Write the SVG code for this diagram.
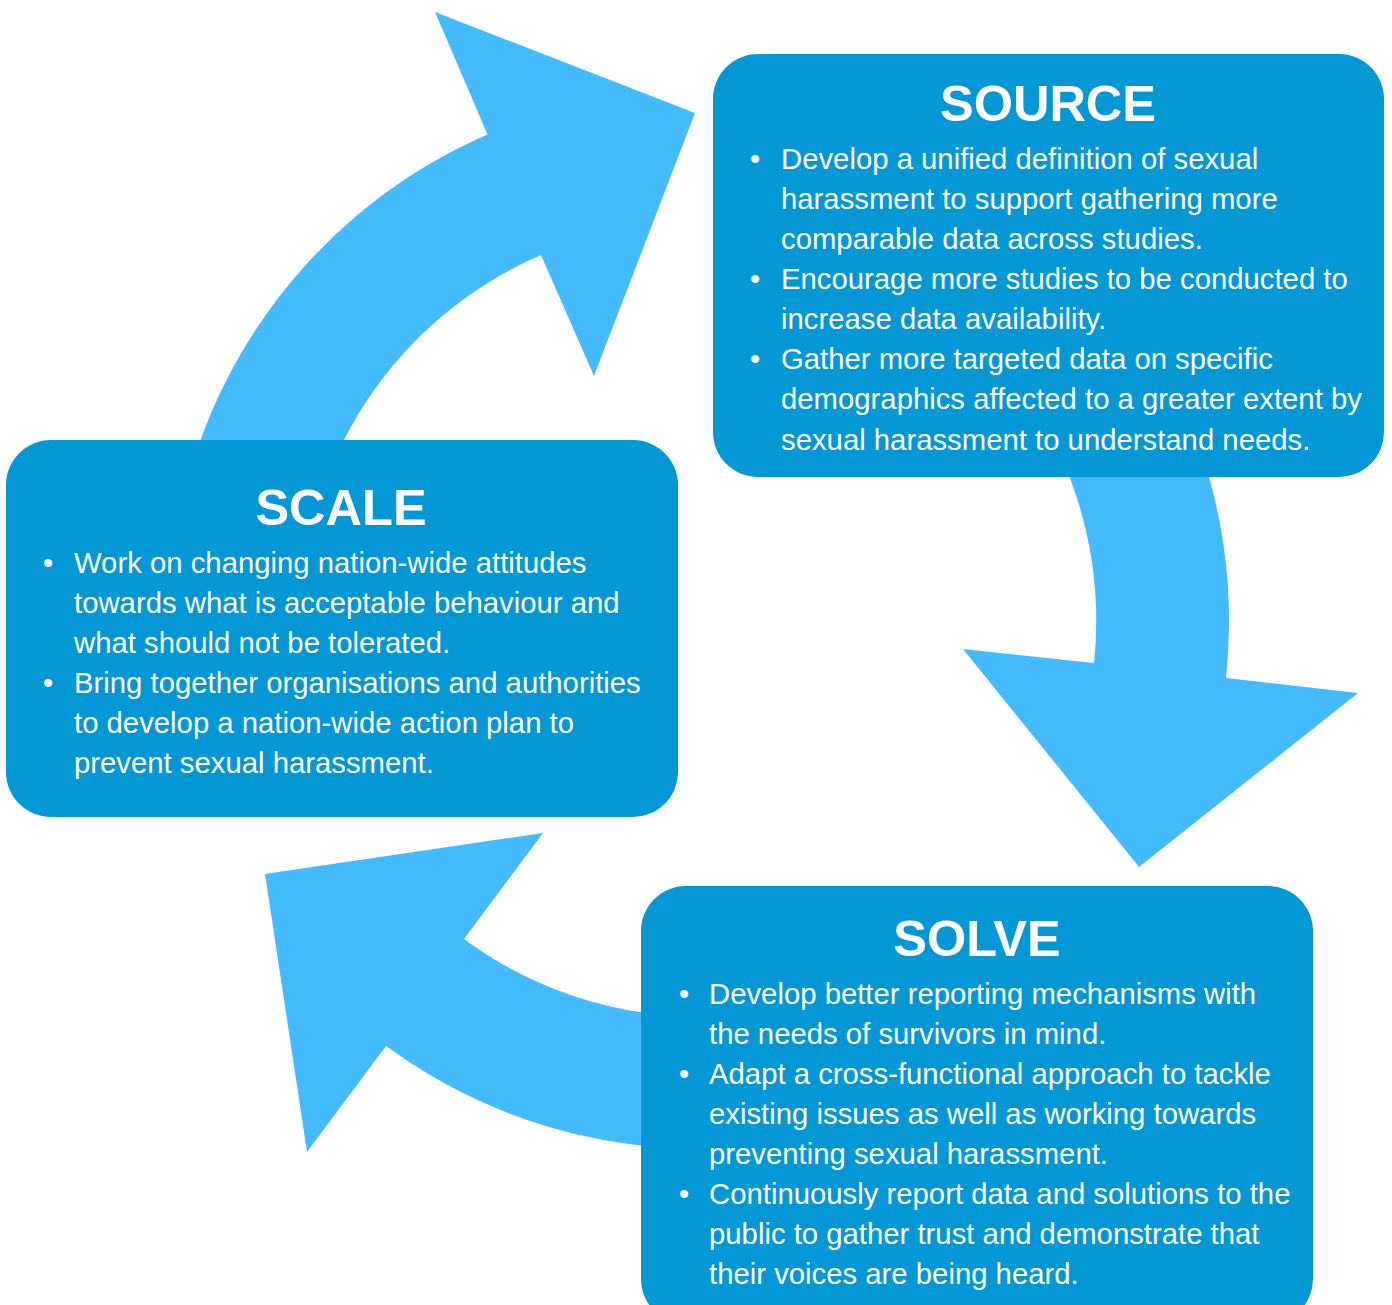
<svg xmlns="http://www.w3.org/2000/svg" width="1392" height="1305" viewBox="0 0 1392 1305">
<style>
.arrow{fill:#44BBFF}
.box{fill:#0497D6}
.title{font-family:"Liberation Sans",Arial,sans-serif;font-weight:bold;font-size:50.5px;fill:#FFFFFF;text-anchor:middle}
.body{font-family:"Liberation Sans",Arial,sans-serif;font-size:29.3px;fill:#FFFFFF}
</style>
<rect width="1392" height="1305" fill="#FFFFFF"/>
<g id="connectors">
<path class="arrow" d="M169,620 A529,529 0 0 1 487.5,134.5 L435,12 L695,113 L594,376 L541,255 A397,397 0 0 0 301,620 Z"/>
<path class="arrow" d="M962.5,162 A529,529 0 0 1 1226,678 L1358,693 L1139,867 L963,649 L1094,663 A397,397 0 0 0 896.5,276 Z"/>
<path class="arrow" d="M790,1141 A529,529 0 0 1 386,1046 L307,1152 L265,874 L543,833 L464,939 A397,397 0 0 0 767,1011 Z"/>
</g>
<g id="source">
<rect class="box" x="713" y="54" width="671" height="423" rx="45"/>
<text class="title" x="1048" y="121">SOURCE</text>
<text class="body" x="750" y="169">•</text>
<text class="body" x="781" y="169">Develop a unified definition of sexual</text>
<text class="body" x="781" y="209">harassment to support gathering more</text>
<text class="body" x="781" y="249">comparable data across studies.</text>
<text class="body" x="750" y="289">•</text>
<text class="body" x="781" y="289">Encourage more studies to be conducted to</text>
<text class="body" x="781" y="329">increase data availability.</text>
<text class="body" x="750" y="369">•</text>
<text class="body" x="781" y="369">Gather more targeted data on specific</text>
<text class="body" x="781" y="409">demographics affected to a greater extent by</text>
<text class="body" x="781" y="450">sexual harassment to understand needs.</text>
</g>
<g id="scale">
<rect class="box" x="6" y="440" width="672" height="377" rx="45"/>
<text class="title" x="341" y="525">SCALE</text>
<text class="body" x="43" y="573">•</text>
<text class="body" x="74" y="573">Work on changing nation-wide attitudes</text>
<text class="body" x="74" y="613">towards what is acceptable behaviour and</text>
<text class="body" x="74" y="653">what should not be tolerated.</text>
<text class="body" x="43" y="693">•</text>
<text class="body" x="74" y="693">Bring together organisations and authorities</text>
<text class="body" x="74" y="733">to develop a nation-wide action plan to</text>
<text class="body" x="74" y="773">prevent sexual harassment.</text>
</g>
<g id="solve">
<rect class="box" x="641" y="886" width="672" height="438" rx="45"/>
<text class="title" x="977" y="956">SOLVE</text>
<text class="body" x="679" y="1004">•</text>
<text class="body" x="709" y="1004">Develop better reporting mechanisms with</text>
<text class="body" x="709" y="1044">the needs of survivors in mind.</text>
<text class="body" x="679" y="1084">•</text>
<text class="body" x="709" y="1084">Adapt a cross-functional approach to tackle</text>
<text class="body" x="709" y="1124">existing issues as well as working towards</text>
<text class="body" x="709" y="1164">preventing sexual harassment.</text>
<text class="body" x="679" y="1204">•</text>
<text class="body" x="709" y="1204">Continuously report data and solutions to the</text>
<text class="body" x="709" y="1244">public to gather trust and demonstrate that</text>
<text class="body" x="709" y="1284">their voices are being heard.</text>
</g>
</svg>
